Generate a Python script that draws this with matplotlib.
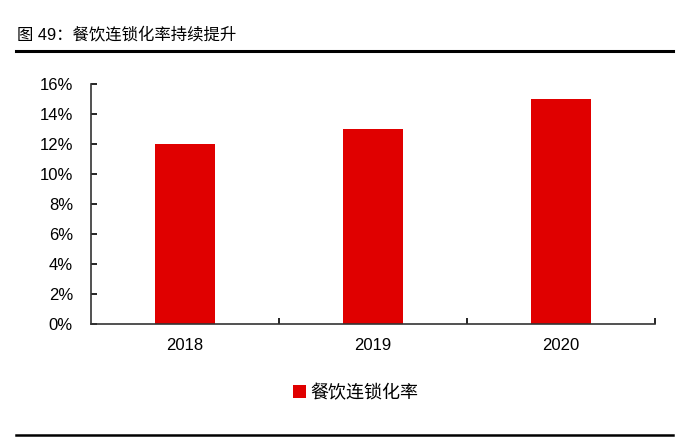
import matplotlib
matplotlib.use("Agg")
import matplotlib.pyplot as plt
from matplotlib.lines import Line2D

plt.rcParams['font.family'] = ['Liberation Sans', 'Noto Sans CJK SC', 'DejaVu Sans']

title = "图 49：餐饮连锁化率持续提升"
categories = ["2018", "2019", "2020"]
values = [12, 13, 15]
series_name = "餐饮连锁化率"
yticks = [0, 2, 4, 6, 8, 10, 12, 14, 16]
ytick_labels = [f"{v}%" for v in yticks]

fig = plt.figure(figsize=(6.91, 4.37), dpi=100)
ax = fig.add_axes([91/691, 1-324/437, (655-91)/691, (324-84)/437])

x = list(range(len(categories)))
ax.bar(x, values, width=0.315, color="#E00000", label=series_name, zorder=2)

ax.set_xlim(-0.5, len(categories)-0.5)
ax.set_ylim(0, 16)
ax.set_yticks(yticks)
ax.set_yticklabels(ytick_labels, fontsize=12, color="black")
ax.set_xticks(x)
ax.set_xticklabels(categories, fontsize=12)
ax.tick_params(axis='x', which='major', length=0, pad=10)
ax.set_xticks([0.5, 1.5, 2.5], minor=True)
ax.tick_params(axis='x', which='minor', direction='in', length=4, width=1.2)
ax.tick_params(axis='y', direction='in', length=4, width=1.2, pad=13)

for s in ['top', 'right']:
    ax.spines[s].set_visible(False)
for s in ['left', 'bottom']:
    ax.spines[s].set_color('#333333')
    ax.spines[s].set_linewidth(1.2)

leg = ax.legend(loc='center', bbox_to_anchor=(0.469, -69/240), frameon=False,
                handlelength=0.75, handleheight=0.75, handletextpad=0.2,
                prop={'family': ['Noto Sans CJK SC'], 'size': 13})

fig.text(17/691, 1-35/437, title, fontsize=11.8, va='center', ha='left',
         family=['Liberation Sans', 'Noto Sans CJK SC'])
fig.add_artist(Line2D([16/691, 673/691], [1-51/437, 1-51/437], color='black', lw=2.2))
fig.add_artist(Line2D([16/691, 673/691], [1-435/437, 1-435/437], color='black', lw=1.8))

fig.savefig("out.png", dpi=100)
